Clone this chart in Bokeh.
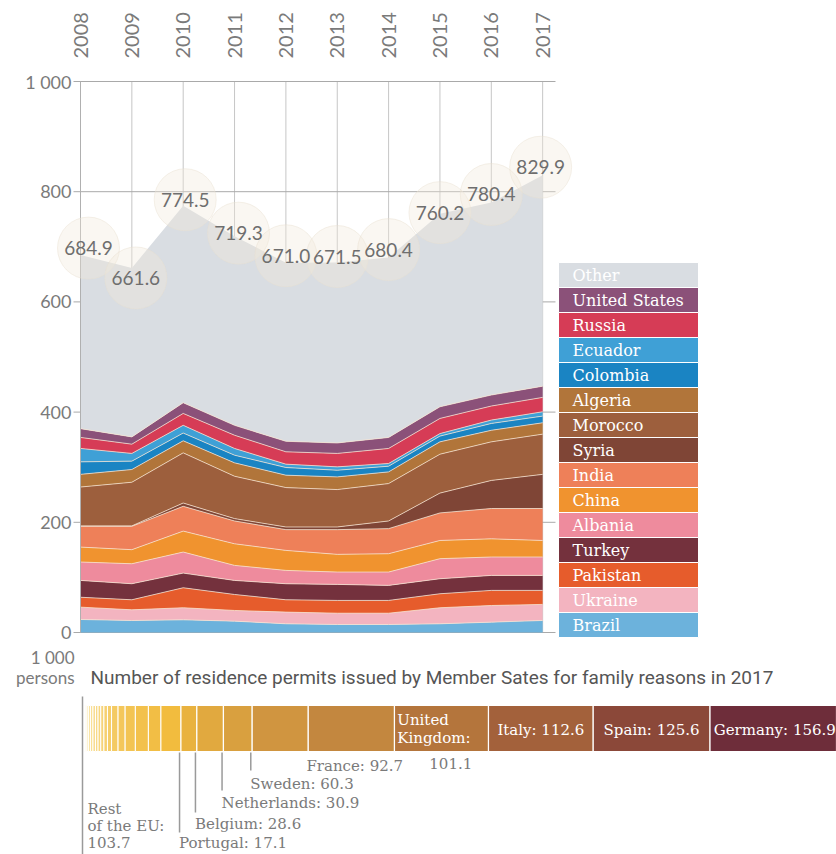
import numpy as np
from bokeh.plotting import figure
from bokeh.models import ColumnDataSource, FixedTicker, Range1d
from bokeh.layouts import column
from bokeh.embed import file_html
from bokeh.resources import INLINE
from bokeh.core.properties import value

# ---------------- data ----------------
years = [2008, 2009, 2010, 2011, 2012, 2013, 2014, 2015, 2016, 2017]
totals = [684.9, 661.6, 774.5, 719.3, 671.0, 671.5, 680.4, 760.2, 780.4, 829.9]

brazil = [23.6, 21.8, 23.0, 20.6, 15.8, 14.5, 14.5, 15.8, 18.8, 21.8]
ukraine = [22.4, 19.4, 21.9, 19.4, 21.2, 20.5, 20.5, 29.1, 30.2, 29.2]
pakistan = [18.0, 18.2, 36.3, 29.0, 22.4, 23.2, 23.2, 25.4, 27.4, 25.4]
turkey = [30.5, 29.1, 26.6, 25.5, 29.1, 29.1, 27.3, 27.3, 27.2, 27.2]
albania = [33.4, 36.3, 38.2, 27.3, 24.2, 22.4, 24.2, 36.4, 33.4, 33.4]
china = [27.1, 25.5, 38.0, 39.2, 36.3, 32.1, 33.3, 33.0, 33.0, 30.0]
india = [37.7, 42.4, 45.0, 41.4, 37.7, 44.9, 45.5, 50.0, 55.0, 58.0]
syria = [0.8, 0.8, 6.0, 4.3, 4.8, 4.8, 13.9, 36.0, 51.0, 62.0]
morocco = [70.5, 79.2, 91.0, 76.9, 71.5, 67.9, 67.9, 70.6, 70.0, 73.0]
algeria = [23.0, 23.1, 21.9, 24.3, 22.5, 23.0, 21.2, 22.4, 21.0, 20.6]
colombia = [22.7, 15.2, 14.1, 13.9, 13.9, 12.1, 10.3, 10.4, 12.4, 12.1]
ecuador = [24.3, 14.0, 14.0, 12.2, 6.1, 6.1, 4.9, 4.6, 6.1, 7.9]
russia = [20.0, 16.8, 21.6, 24.0, 22.4, 24.4, 27.3, 27.5, 25.5, 26.1]
united_states = [16.0, 13.2, 19.4, 18.0, 19.1, 19.0, 20.0, 21.2, 20.0, 20.3]
other = [314.9, 306.6, 357.5, 343.3, 324.0, 327.5, 326.4, 350.5, 349.4, 382.9]

series_names = ["Brazil", "Ukraine", "Pakistan", "Turkey", "Albania", "China", "India",
                "Syria", "Morocco", "Algeria", "Colombia", "Ecuador", "Russia",
                "United States", "Other"]
series_values = [brazil, ukraine, pakistan, turkey, albania, china, india, syria, morocco,
                 algeria, colombia, ecuador, russia, united_states, other]

y_ticks = [0, 200, 400, 600, 800, 1000]
y_tick_labels = ["0", "200", "400", "600", "800", "1 000"]

# 2017 residence permits by member state (thousands)
rest_of_eu_total = 103.7
rest_of_eu_slices = [0.6, 0.9, 1.1, 1.6, 2.2, 2.7, 2.7, 2.8, 2.9, 3.4, 3.8, 4.4,
                     7.0, 7.6, 11.0, 14.0, 13.5, 21.5]
ms_names = ["Portugal", "Belgium", "Netherlands", "Sweden", "France",
            "United Kingdom", "Italy", "Spain", "Germany"]
ms_values = [17.1, 28.6, 30.9, 60.3, 92.7, 101.1, 112.6, 125.6, 156.9]

# ---------------- styles ----------------
series_colors = ["#6cb2dc", "#f3b4c0", "#e65c2c", "#74313d", "#ee8b9d", "#f0932f",
                 "#ee8059", "#7f4536", "#9d5f3d", "#b1753a", "#1a84c3", "#3fa0d6",
                 "#d63c56", "#8b5179", "#d9dde2"]
ms_colors = ["#e9b23f", "#e1a93f", "#d9a03f", "#d09540", "#c3873f", "#b4753c",
             "#a3613b", "#8b4839", "#6e2d3a"]
label_dx = [8, 4, 2, 4, 0, 0, 0, 0, 0, -2]     # screen px
label_dy = [7, -10, 6, 3, 7, 6, 8, 1, 8, 8]    # screen px, positive = up

GREY = "#7a7a7a"
AX = "#b0b0b0"

# ---------------- geometry of the main panel ----------------
W, H = 836, 645
FRAME_TOP = 66           # px where the drawing frame starts
ZERO = 632               # px of the 0 line
ONE_K = 81               # px of the 1 000 line
X0 = 80                  # px of 2008
PPY = 51.35              # px per year
PPV = (ZERO - ONE_K) / 1000.0   # px per thousand

x_lo = 2008 - X0 / PPY
x_hi = 2008 + (W - X0) / PPY
y_lo = -(H - ZERO) / PPV
y_hi = (ZERO - FRAME_TOP) / PPV
x_end = 2017.25          # right end of the grid lines


def xpx(px):
    return 2008 + (px - X0) / PPY


def ypx(py):
    return (ZERO - py) / PPV


src = ColumnDataSource(dict(
    year=years, total=totals, lbl=[f"{t:.1f}" for t in totals],
    lx=[y + dx / PPY for y, dx in zip(years, label_dx)],
    ly=[t + dy / PPV for t, dy in zip(totals, label_dy)],
    **{n: v for n, v in zip(series_names, series_values)}))

p = figure(width=W, height=H, x_range=Range1d(x_lo, x_hi), y_range=Range1d(y_lo, y_hi),
           output_backend="svg", toolbar_location=None, x_axis_location="above",
           y_axis_location=None,
           min_border_left=0, min_border_right=0, min_border_top=FRAME_TOP,
           min_border_bottom=0)
p.outline_line_color = None
p.grid.visible = False

# grid lines (drawn under the areas)
p.segment(x0=years, y0=0, x1=years, y1=1000, line_color="#c6c6c6", line_width=1)
p.segment(x0=xpx(X0 - 7), y0=y_ticks, x1=x_end, y1=y_ticks, line_color="#a9a9a9",
          line_width=1)

p.varea_stack(stackers=series_names, x="year", color=series_colors, source=src)
p.vline_stack(stackers=series_names[:-1], x="year", line_color="#f7e4d2",
              line_alpha=0.75, line_width=1, source=src)

# y axis line and labels
p.segment(x0=2008, y0=0, x1=2008, y1=1000, line_color=AX, line_width=1)
p.text(x=2008, y=y_ticks, text=y_tick_labels, x_offset=-9, text_align="right",
       text_baseline="middle", text_color=GREY, text_font=value("Lato"),
       text_font_size="18px")

# total labels in soft circles
p.scatter(x="lx", y="ly", size=62, fill_color="#f2e8da", fill_alpha=0.36,
          line_color="#e9dfd0", line_alpha=0.45, source=src)
p.text(x="lx", y="ly", text="lbl", source=src, text_align="center",
       text_baseline="middle", text_color="#6e6e6e", text_font=value("Lato"),
       text_font_size="19px")

p.xaxis.ticker = FixedTicker(ticks=years)
p.xaxis.major_label_orientation = np.pi / 2
p.xaxis.axis_line_color = None
p.xaxis.major_tick_line_color = None
p.xaxis.minor_tick_line_color = None
p.xaxis.major_label_standoff = 2
p.xaxis.major_label_text_font = "Lato"
p.xaxis.major_label_text_font_size = "20px"
p.xaxis.major_label_text_color = GREY

# legend block
leg_top_px, leg_bot_px = 262, 637
item_px = (leg_bot_px - leg_top_px) / len(series_names)
leg_src = ColumnDataSource(dict(
    name=series_names, color=series_colors,
    yc=[ypx(leg_bot_px - item_px * (i + 0.5)) for i in range(len(series_names))]))
p.rect(x=xpx(558 + 70), y="yc", width=140 / PPY, height=item_px / PPV,
       fill_color="color", line_color="white", line_width=1, source=leg_src)
p.text(x=xpx(558), y="yc", text="name", x_offset=14, source=leg_src,
       text_baseline="middle", text_color="white", text_font=value("DejaVu Serif"),
       text_font_size="16px")

# ---------------- member state bar ----------------
bar0 = 84.0      # px where the bar starts
scale = 0.93     # px per thousand


def px2x(px):
    return (px - bar0) / scale


bf = figure(width=836, height=209, x_range=Range1d(px2x(0), px2x(836)),
            y_range=Range1d(209, 0), output_backend="svg", toolbar_location=None,
            x_axis_location=None, y_axis_location=None,
            min_border_left=0, min_border_right=0, min_border_top=0, min_border_bottom=0)
bf.outline_line_color = None
bf.grid.visible = False

rs_right = np.cumsum(rest_of_eu_slices)
rs_left = rs_right - np.array(rest_of_eu_slices)
c0 = np.array([252, 238, 186])
c1 = np.array([242, 188, 62])
n_rs = len(rest_of_eu_slices)
rs_colors = ["#%02x%02x%02x" % tuple(int(v) for v in (c0 + (c1 - c0) * i / (n_rs - 1)))
             for i in range(n_rs)]

bf.segment(x0=px2x(82), y0=51, x1=px2x(82), y1=209, line_color="#9a9a9a", line_width=1.5)

bf.hbar(y=83, left=rs_left, right=rs_right, height=46, fill_color=rs_colors,
        line_color="white", line_width=1)

ms_right = rest_of_eu_total + np.cumsum(ms_values)
ms_left = ms_right - np.array(ms_values)
bf.hbar(y=83, left=ms_left, right=ms_right, height=46, fill_color=ms_colors,
        line_color="white", line_width=1.2)

lab = {n: (l, r, v) for n, l, r, v in zip(ms_names, ms_left, ms_right, ms_values)}

lead = [("Portugal", 187), ("Belgium", 167), ("Netherlands", 145), ("Sweden", 125)]
bf.segment(x0=[lab[n][0] - 1.5 for n, _ in lead], y0=107,
           x1=[lab[n][0] - 1.5 for n, _ in lead], y1=[e for _, e in lead],
           line_color="#9a9a9a", line_width=1.5)

SERIF = value("DejaVu Serif")
below = [("France", 120), ("Sweden", 138), ("Netherlands", 157), ("Belgium", 178),
         ("Portugal", 197)]
bf.text(x=[lab[n][0] - 2 for n, _ in below], y=[yy for _, yy in below],
        text=[f"{n}: {lab[n][2]:.1f}" for n, _ in below], text_baseline="middle",
        text_color=GREY, text_font=SERIF, text_font_size="15px")
bf.text(x=[lab["United Kingdom"][0] + lab["United Kingdom"][2] / 2 + 10], y=[118],
        text=[f"{lab['United Kingdom'][2]:.1f}"], text_align="center",
        text_baseline="middle", text_color=GREY, text_font=SERIF, text_font_size="15px")
bf.text(x=[px2x(87)] * 3, y=[163, 180, 197],
        text=["Rest", "of the EU:", f"{rest_of_eu_total:.1f}"],
        text_baseline="middle", text_color=GREY, text_font=SERIF, text_font_size="15px")

bf.text(x=[lab["United Kingdom"][0] + 3] * 2, y=[74, 92], text=["United", "Kingdom:"],
        text_baseline="middle", text_color="white", text_font=SERIF,
        text_font_size="15px")
for n in ["Italy", "Spain"]:
    l, r, v = lab[n]
    bf.text(x=[(l + r) / 2], y=[84], text=[f"{n}: {v:.1f}"], text_align="center",
            text_baseline="middle", text_color="white", text_font=SERIF,
            text_font_size="15px")
l, r, v = lab["Germany"]
bf.text(x=[l + 4], y=[84], text=[f"Germany: {v:.1f}"], text_baseline="middle",
        text_color="white", text_font=SERIF, text_font_size="15px")

bf.text(x=[px2x(74)] * 2, y=[12, 32], text=["1 000", "persons"], text_align="right",
        text_baseline="middle", text_color=GREY, text_font=value("Lato"),
        text_font_size="17px")
bf.text(x=[px2x(90)], y=[32],
        text=["Number of residence permits issued by Member Sates for family reasons  in 2017"],
        text_baseline="middle", text_color="#555555", text_font=value("Roboto"),
        text_font_size="19px")

layout = column(p, bf)
open("out.html", "w").write(file_html(layout, INLINE))
